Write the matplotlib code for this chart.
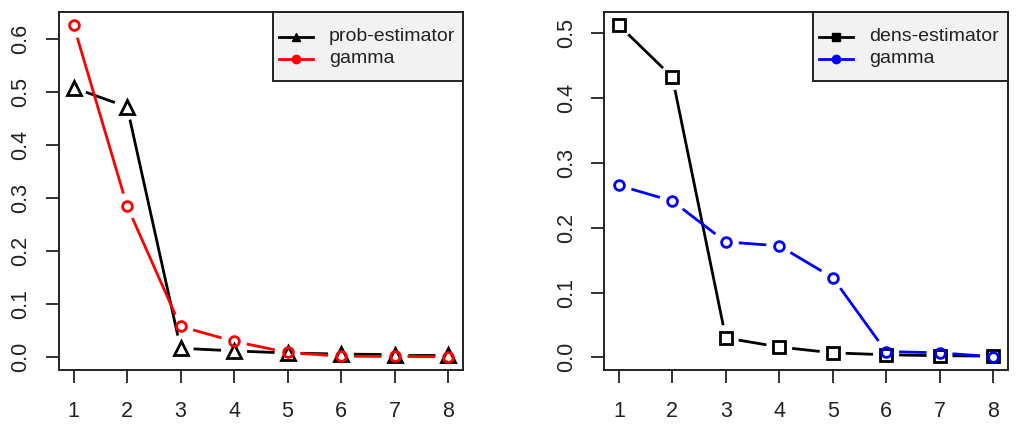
import numpy as np
import matplotlib
matplotlib.use('Agg')
from matplotlib import pyplot as plt
from matplotlib.patches import Rectangle

plt.rcParams['font.family'] = ['Liberation Sans', 'DejaVu Sans']

x = [1, 2, 3, 4, 5, 6, 7, 8]
prob_est = [0.507, 0.471, 0.016, 0.011, 0.007, 0.005, 0.004, 0.004]
gamma_left = [0.625, 0.284, 0.057, 0.029, 0.008, 0.001, 0.0005, 0.0]
dens_est = [0.512, 0.432, 0.030, 0.016, 0.007, 0.004, 0.0025, 0.002]
gamma_right = [0.265, 0.241, 0.178, 0.172, 0.123, 0.009, 0.007, 0.001]

left_ticks = [0.0, 0.1, 0.2, 0.3, 0.4, 0.5, 0.6]
right_ticks = [0.0, 0.1, 0.2, 0.3, 0.4, 0.5]

W, H = 1024, 444
fig = plt.figure(figsize=(W / 100, H / 100), dpi=100)
ax1 = fig.add_axes([0.0573, 0.1667, 0.3948, 0.8063])
ax2 = fig.add_axes([0.5898, 0.1667, 0.3945, 0.8063])


def r_limits(vals):
    # R style 4% padding
    lo, hi = min(vals), max(vals)
    pad = 0.04 * (hi - lo)
    return lo - pad, hi + pad


def setup(ax, series, yticks):
    allv = [v for s in series for v in s]
    ax.set_xlim(0.72, 8.28)
    ax.set_ylim(*r_limits(allv))
    ax.set_xticks(x)
    ax.set_yticks(yticks)
    ax.set_yticklabels(['%.1f' % t for t in yticks], rotation=90, va='center')
    ax.tick_params(length=9.5, width=1.3, labelsize=15.5, pad=10, colors='#222222')
    ax.tick_params(axis='x', pad=13)
    for s in ax.spines.values():
        s.set_linewidth(1.4)
        s.set_color('#222222')


def type_b(ax, xs, ys, color, marker, ms, gap=13):
    # lines with gaps around points, like R type="b"
    pts = ax.transData.transform(np.column_stack([xs, ys]))
    inv = ax.transData.inverted()
    for i in range(len(pts) - 1):
        p0, p1 = pts[i], pts[i + 1]
        d = p1 - p0
        L = np.hypot(d[0], d[1])
        if L <= 2 * gap:
            continue
        u = d / L
        a = inv.transform(p0 + u * gap)
        b = inv.transform(p1 - u * gap)
        ax.plot([a[0], b[0]], [a[1], b[1]], color=color, lw=2, solid_capstyle='butt')
    ax.plot(xs, ys, linestyle='none', marker=marker, ms=ms, mfc='none',
            mec=color, mew=2)


setup(ax1, [prob_est, gamma_left], left_ticks)
setup(ax2, [dens_est, gamma_right], right_ticks)

type_b(ax1, x, prob_est, 'black', '^', 10.5)
type_b(ax1, x, gamma_left, 'red', 'o', 7)
type_b(ax2, x, dens_est, 'black', 's', 8.5)
type_b(ax2, x, gamma_right, 'blue', 'o', 7)


def r_legend(ax, labels, colors, markers, box_w):
    # R-like legend box in the top right corner, sizes in pixels
    bb = ax.get_position()
    aw, ah = bb.width * W, bb.height * H
    x0 = 1 - box_w / aw
    ax.add_patch(Rectangle((x0, 1 - 69 / ah), box_w / aw, 69 / ah,
                           transform=ax.transAxes, facecolor='#f2f2f2',
                           edgecolor='#222222', lw=1.4, zorder=5, clip_on=False))
    for i, (lab, c, m) in enumerate(zip(labels, colors, markers)):
        yy = 1 - (25 + 22 * i) / ah
        ax.plot([x0 + 6 / aw, x0 + 40 / aw], [yy, yy], color=c, lw=2,
                transform=ax.transAxes, zorder=6, clip_on=False)
        ax.plot([x0 + 23 / aw], [yy], marker=m, ms=6, color=c,
                transform=ax.transAxes, zorder=6, clip_on=False)
        ax.text(x0 + 56 / aw, yy, lab, fontsize=14, color='#222222',
                va='center', ha='left', transform=ax.transAxes, zorder=6)


r_legend(ax1, ['prob-estimator', 'gamma'], ['black', 'red'], ['^', 'o'], 190)
r_legend(ax2, ['dens-estimator', 'gamma'], ['black', 'blue'], ['s', 'o'], 195)

fig.savefig('out.png', dpi=100)
